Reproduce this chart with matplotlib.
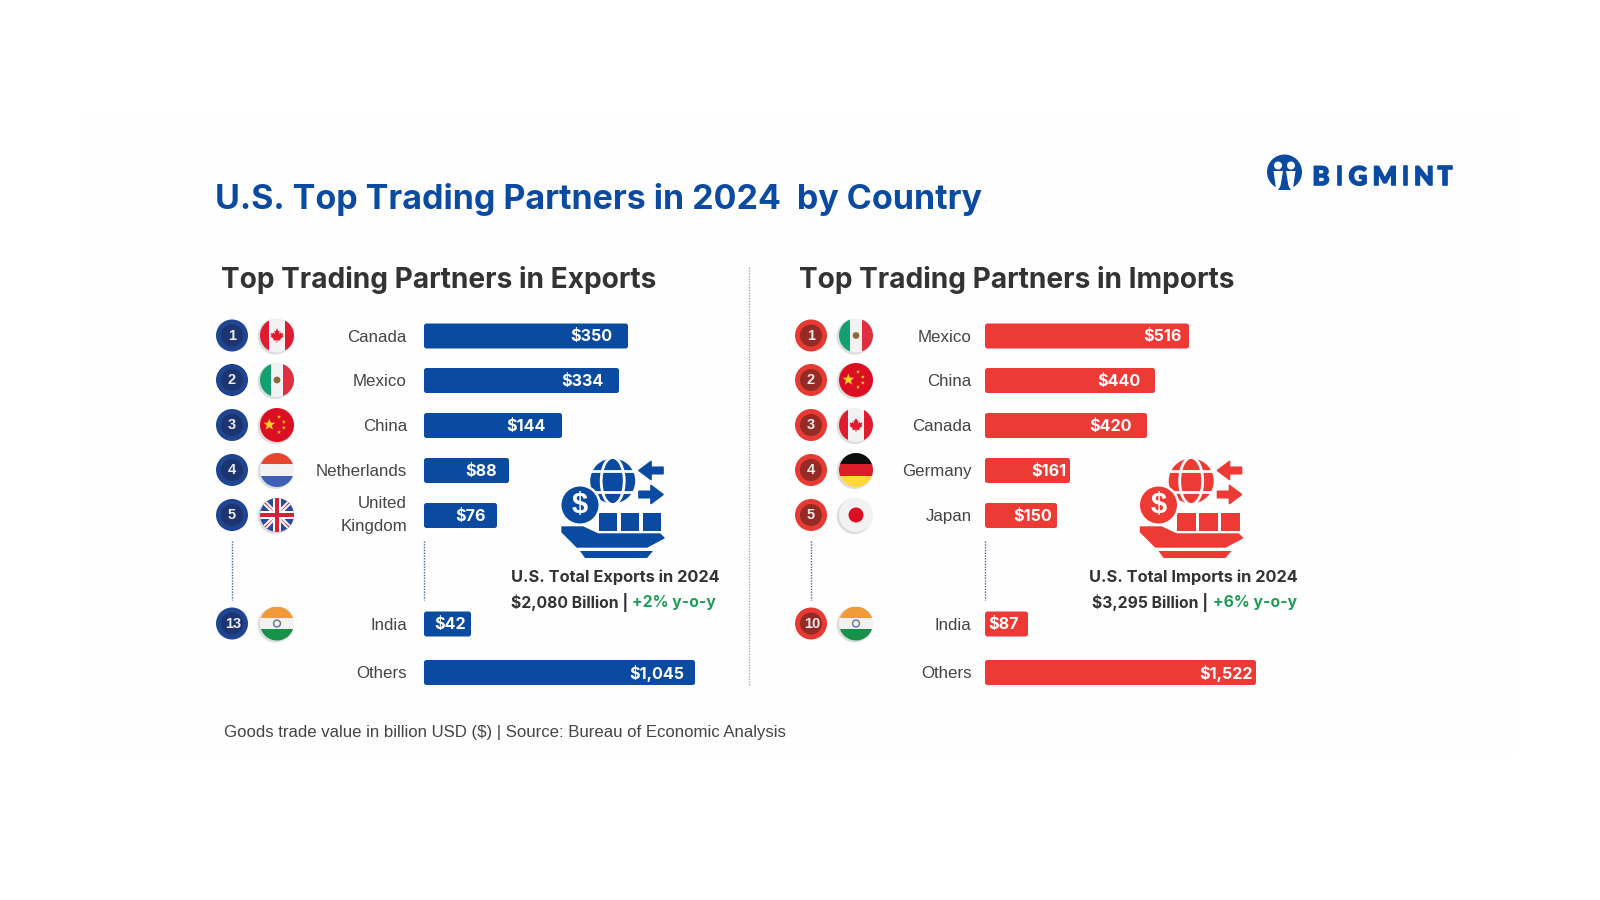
import numpy as np
import matplotlib
matplotlib.use('Agg')
import matplotlib.pyplot as plt
import matplotlib.patheffects as pe
from matplotlib.patches import Circle, Ellipse, Rectangle, Polygon, FancyBboxPatch

# data
export_ranks = ['1', '2', '3', '4', '5', '13', '']
export_countries = ['Canada', 'Mexico', 'China', 'Netherlands', 'United\nKingdom', 'India', 'Others']
export_values = ['$350', '$334', '$144', '$88', '$76', '$42', '$1,045']
export_bar_len = [204, 195, 138, 85, 73, 47, 271]  # bars are not to scale in the original
export_flags = ['ca', 'mx', 'cn', 'nl', 'uk', 'in', None]

import_ranks = ['1', '2', '3', '4', '5', '10', '']
import_countries = ['Mexico', 'China', 'Canada', 'Germany', 'Japan', 'India', 'Others']
import_values = ['$516', '$440', '$420', '$161', '$150', '$87', '$1,522']
import_bar_len = [204, 170, 162, 85, 72, 43, 271]
import_flags = ['mx', 'cn', 'ca', 'de', 'jp', 'in', None]

# layout, in pixels
row_y = [336, 380.5, 425.5, 470.5, 515.5, 624, 672.5]
export_inset = [16, 16, 16, 12, 11, 5, 11]
import_inset = [7, 15, 15, 4, 5, 9, 3]

BLUE = '#0a4ba1'
RED = '#ee3a34'
GREEN = '#1f9d57'
DARK = '#333333'
SANS = 'Liberation Sans'
HEAD = 'Inter'

fig = plt.figure(figsize=(16, 9), dpi=100, facecolor='white')
ax = fig.add_axes([0, 0, 1, 1])
ax.set_xlim(0, 1600)
ax.set_ylim(900, 0)
ax.axis('off')
ax.add_patch(Rectangle((80, 115), 1435, 640, fc='#fefefe', ec='none', zorder=0))

# rough maple leaf outline, unit size
LEAF = [(0, -1), (0.2, -0.6), (0.38, -0.68), (0.3, -0.2), (0.55, -0.45), (0.62, -0.28), (0.95, -0.32), (0.82, 0.02),
        (0.95, 0.12), (0.48, 0.5), (0.52, 0.72), (0.06, 0.66), (0.06, 1), (-0.06, 1), (-0.06, 0.66), (-0.52, 0.72),
        (-0.48, 0.5), (-0.95, 0.12), (-0.82, 0.02), (-0.95, -0.32), (-0.62, -0.28), (-0.55, -0.45), (-0.3, -0.2),
        (-0.38, -0.68), (-0.2, -0.6)]


def star(cx, cy, r, color, z, clip):
    ang = np.arange(10) * np.pi / 5 - np.pi / 2
    rad = np.where(np.arange(10) % 2 == 0, r, r * 0.42)
    p = Polygon(np.c_[cx + rad * np.cos(ang), cy + rad * np.sin(ang)], fc=color, ec='none', zorder=z)
    ax.add_patch(p)
    p.set_clip_path(clip)


def flag(code, cx, cy, r=17):
    ax.add_patch(Circle((cx - 1.5, cy + 1.2), r + 0.8, fc='#dcdcdc', ec='none', zorder=2))
    disc = Circle((cx, cy), r, fc='#f2f2f2', ec='none', zorder=3)
    ax.add_patch(disc)

    def rect(x0, y0, x1, y1, color, z=4):
        p = Rectangle((cx + x0 * r, cy + y0 * r), (x1 - x0) * r, (y1 - y0) * r, fc=color, ec='none', zorder=z)
        ax.add_patch(p)
        p.set_clip_path(disc)

    def band(pts, color, z):
        p = Polygon([(cx + a * r, cy + b * r) for a, b in pts], fc=color, ec='none', zorder=z)
        ax.add_patch(p)
        p.set_clip_path(disc)

    if code == 'ca':
        rect(-1, -1, -0.45, 1, '#e01b2f')
        rect(0.45, -1, 1, 1, '#e01b2f')
        band([(a * 0.4, b * 0.42) for a, b in LEAF], '#e01b2f', 5)
    elif code == 'mx':
        rect(-1, -1, -0.36, 1, '#12a06f')
        rect(0.36, -1, 1, 1, '#e0303f')
        ax.add_patch(Circle((cx, cy), r * 0.2, fc='#8a6a3a', ec='none', zorder=5))
    elif code == 'cn':
        rect(-1, -1, 1, 1, '#dc0f22')
        star(cx - 0.45 * r, cy - 0.02 * r, r * 0.36, '#ffd21f', 5, disc)
        for dx, dy in [(0.12, -0.48), (0.4, -0.18), (0.4, 0.16), (0.12, 0.42)]:
            star(cx + dx * r, cy + dy * r, r * 0.12, '#ffd21f', 5, disc)
    elif code == 'nl':
        rect(-1, -1, 1, -0.33, '#e8452f')
        rect(-1, 0.33, 1, 1, '#3d5fb5')
    elif code == 'uk':
        rect(-1, -1, 1, 1, '#2b4a9b')
        for s in (1, -1):
            band([(-1, -s * 0.8), (-0.8, -s), (1, s * 0.8), (0.8, s)], 'white', 4)
            band([(-1, -s * 0.93), (-0.93, -s), (0.93, s), (1, s * 0.93)], '#d6203a', 4)
        rect(-1, -0.24, 1, 0.24, 'white', 5)
        rect(-0.24, -1, 0.24, 1, 'white', 5)
        rect(-1, -0.13, 1, 0.13, '#d6203a', 6)
        rect(-0.13, -1, 0.13, 1, '#d6203a', 6)
    elif code == 'de':
        rect(-1, -1, 1, -0.33, '#0c0c0c')
        rect(-1, -0.33, 1, 0.33, '#dd1c2a')
        rect(-1, 0.33, 1, 1, '#ffd83a')
    elif code == 'jp':
        ax.add_patch(Circle((cx, cy), r * 0.44, fc='#dc0f22', ec='none', zorder=5))
    elif code == 'in':
        rect(-1, -1, 1, -0.33, '#f09a3a')
        rect(-1, 0.33, 1, 1, '#16924a')
        ax.add_patch(Circle((cx, cy), r * 0.2, fc='none', ec='#5a6db0', lw=1, zorder=5))


def badge(cx, cy, label, outer, inner):
    ax.add_patch(Circle((cx, cy), 16, fc=outer, ec='none', zorder=3))
    ax.add_patch(Circle((cx, cy), 11, fc=inner, ec='none', zorder=4))
    ax.text(cx + (1.5 if len(label) > 1 else 0), cy, label, color='#eeeeee', fontsize=10.5, fontweight='bold',
            family=SANS, ha='center', va='center', zorder=5)


def icon(dx, color):
    # shape of the ship icon, offset dx from the exports copy
    gx, gy, gr = 612.7 + dx, 481, 22.5
    ax.add_patch(Circle((gx, gy), gr, fc=color, ec='none', zorder=3))
    ax.add_patch(Ellipse((gx, gy), 23, 2 * gr + 2, fc='none', ec='white', lw=2, zorder=4))
    for yy in (gy - 10.5, gy + 10.5):
        ax.plot([gx - gr, gx + gr], [yy, yy], color='white', lw=2, zorder=4)
    # coin
    ax.add_patch(Circle((580 + dx, 505), 21, fc='white', ec='none', zorder=5))
    ax.add_patch(Circle((580 + dx, 505), 18.5, fc=color, ec='none', zorder=6))
    ax.text(580 + dx, 505, '$', color='white', fontsize=21, fontweight='bold', family=SANS,
            ha='center', va='center', zorder=7)
    # containers
    for x0 in (598.5, 620.5, 642.5):
        ax.add_patch(Rectangle((x0 + dx, 513), 18.5, 17.5, fc=color, ec='none', zorder=4))
    # hull
    hull = [(562, 527), (583, 527), (598, 534), (660, 534), (664, 538), (647, 547), (577, 547), (562, 532)]
    ax.add_patch(Polygon([(a + dx, b) for a, b in hull], closed=True, fc=color, ec=color, lw=1, joinstyle='round', zorder=4))
    keel = [(580, 551), (653, 551), (647, 558), (585, 558)]
    ax.add_patch(Polygon([(a + dx, b) for a, b in keel], closed=True, fc=color, ec='none', zorder=4))
    # arrows, as outlines: s is the direction
    for tip, s, yy in [(639, -1, 470.5), (663, 1, 494.5)]:
        pts = [(tip, yy), (tip - s * 12, yy - 9), (tip - s * 12, yy - 3.2), (tip - s * 24, yy - 3.2),
               (tip - s * 24, yy + 3.2), (tip - s * 12, yy + 3.2), (tip - s * 12, yy + 9)]
        ax.add_patch(Polygon([(a + dx, b) for a, b in pts], closed=True, fc=color, ec=color, lw=1.2,
                             joinstyle='round', zorder=4))


def panel(ranks, names, vals, lens, flags, insets, bx, fx, lab_r, bar_l, color, outer, inner):
    for i in range(len(names)):
        y = row_y[i]
        ax.add_patch(FancyBboxPatch((bar_l + 2, y - 10.5), lens[i] - 4, 21, boxstyle='round,pad=2,rounding_size=2.5',
                                    fc=color, ec='none', zorder=3))
        ax.text(bar_l + lens[i] - insets[i], y + 0.8, vals[i], color='white', fontsize=11.6, fontweight='bold',
                family=HEAD, ha='right', va='center', zorder=4)
        ax.text(lab_r, y + (-0.5 if '\n' in names[i] else 1), names[i], color='#444444', fontsize=12.2, family=SANS,
                ha='right', va='center', linespacing=1.75, zorder=4)
        if ranks[i]:
            badge(bx, y - 0.5, ranks[i], outer, inner)
            flag(flags[i], fx, y - 0.5)
    for x in (bx, bar_l):
        ax.plot([x, x], [541, 600], color='#4a63a8', lw=1, ls=(0, (1, 1)), zorder=2)


ax.text(215, 200, 'U.S. Top Trading Partners in 2024  by Country', color=BLUE, fontsize=24.5, fontweight='bold',
        family=HEAD, ha='left', va='center')
ax.text(221, 279.5, 'Top Trading Partners in Exports', color=DARK, fontsize=20.2, fontweight='bold', family=HEAD, va='center')
ax.text(799, 279.5, 'Top Trading Partners in Imports', color=DARK, fontsize=20.2, fontweight='bold', family=HEAD, va='center')
ax.plot([748.5, 748.5], [267, 685], color='#a8a8a8', lw=1, ls=(0, (1, 1)))

panel(export_ranks, export_countries, export_values, export_bar_len, export_flags, export_inset,
      232, 277, 407, 424, BLUE, '#1f4590', '#1c3470')
panel(import_ranks, import_countries, import_values, import_bar_len, import_flags, import_inset,
      811, 856, 971.5, 985, RED, '#e63a32', '#962a24')

icon(0, BLUE)
icon(578.5, RED)

ax.text(615.5, 577, 'U.S. Total Exports in 2024', color=DARK, fontsize=11.8, fontweight='bold', family=HEAD, ha='center', va='center')
ax.text(511, 603, '$2,080 Billion |', color=DARK, fontsize=11.3, fontweight='bold', family=HEAD, va='center')
ax.text(632.5, 603, '+2% y-o-y', color=GREEN, fontsize=11.3, fontweight='bold', family=HEAD, va='center')
ax.text(1193, 577, 'U.S. Total Imports in 2024', color=DARK, fontsize=11.8, fontweight='bold', family=HEAD, ha='center', va='center')
ax.text(1092, 603, '$3,295 Billion |', color=DARK, fontsize=11.3, fontweight='bold', family=HEAD, va='center')
ax.text(1213, 603, '+6% y-o-y', color=GREEN, fontsize=11.3, fontweight='bold', family=HEAD, va='center')

ax.text(224.5, 733, 'Goods trade value in billion USD ($) | Source: Bureau of Economic Analysis', color='#444444',
        fontsize=12.05, family=SANS, va='center')

# logo
ax.add_patch(Circle((1284.5, 172), 17.5, fc=BLUE, ec='none', zorder=3))
for s in (-1, 1):
    ax.add_patch(Circle((1284.5 + s * 6.5, 165.5), 4, fc='white', ec='none', zorder=4))
    ax.add_patch(Polygon([(1284.5 + s * 1.5, 171), (1284.5 + s * 11, 171), (1284.5 + s * 8, 192), (1284.5 + s * 5, 192)],
                         fc='white', ec='none', zorder=4))
ax.add_patch(Polygon([(1278, 190), (1284.5, 180), (1291, 190)], fc=BLUE, ec='none', zorder=5))
for i, ch in enumerate('BIGMINT'):
    t = ax.text([1321, 1339.5, 1358, 1385, 1405.5, 1424, 1445][i], 177, ch, color=BLUE, fontsize=18.5, fontweight='black',
                family='Lato', ha='center', va='center')
    t.set_path_effects([pe.withStroke(linewidth=1.2, foreground=BLUE)])

fig.savefig('out.png', dpi=100)
